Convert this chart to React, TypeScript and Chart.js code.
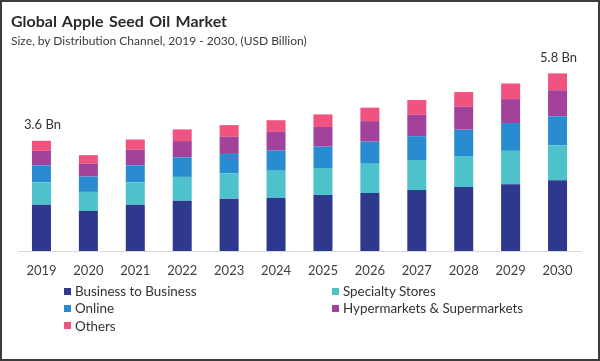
import React, { useEffect, useRef } from "react";
import { Chart, registerables } from "chart.js";

Chart.register(...registerables);

const categories = ["2019", "2020", "2021", "2022", "2023", "2024", "2025", "2026", "2027", "2028", "2029", "2030"];
const businessToBusiness = [1.51, 1.31, 1.51, 1.64, 1.71, 1.74, 1.83, 1.89, 1.99, 2.09, 2.18, 2.31];
const specialtyStores = [0.73, 0.62, 0.73, 0.78, 0.83, 0.88, 0.88, 0.96, 0.98, 1.01, 1.09, 1.14];
const online = [0.56, 0.5, 0.56, 0.64, 0.63, 0.67, 0.7, 0.72, 0.78, 0.86, 0.91, 0.95];
const hypermarkets = [0.47, 0.42, 0.51, 0.53, 0.56, 0.6, 0.64, 0.67, 0.7, 0.75, 0.78, 0.85];
const others = [0.33, 0.28, 0.33, 0.38, 0.38, 0.38, 0.41, 0.44, 0.48, 0.48, 0.51, 0.55];

const seriesNames = ["Business to Business", "Specialty Stores", "Online", "Hypermarkets & Supermarkets", "Others"];
const seriesColors = ["#2E388C", "#4DC2CA", "#2A8CD0", "#A3429A", "#F0537F"];

const totalLabelIndexes = [0, 11];
const totalLabelTexts = ["3.6 Bn", "5.8 Bn"];

const FONT = "Lato, 'Open Sans', sans-serif";

const totalLabelPlugin = {
  id: "totalLabels",
  afterDatasetsDraw(chart: any) {
    const ctx = chart.ctx;
    const meta = chart.getDatasetMeta(chart.data.datasets.length - 1);
    ctx.save();
    ctx.font = `13px ${FONT}`;
    ctx.fillStyle = "#333333";
    ctx.textAlign = "center";
    ctx.textBaseline = "middle";
    totalLabelIndexes.forEach((idx, i) => {
      const el = meta.data[idx];
      if (el) ctx.fillText(totalLabelTexts[i], el.x + 1, el.y - 16);
    });
    ctx.restore();
  },
};

export default function App() {
  const canvasRef = useRef<HTMLCanvasElement | null>(null);

  useEffect(() => {
    document.body.style.margin = "0";
    const canvas = canvasRef.current;
    if (!canvas) return;
    const seriesData = [businessToBusiness, specialtyStores, online, hypermarkets, others];
    const chart = new Chart(canvas, {
      type: "bar",
      data: {
        labels: categories,
        datasets: seriesData.map((d, i) => ({
          label: seriesNames[i],
          data: d,
          backgroundColor: seriesColors[i],
          borderWidth: 0,
          categoryPercentage: 1,
          barPercentage: 0.405,
        })),
      },
      options: {
        responsive: false,
        animation: false,
        layout: { padding: { left: 18, right: 19, top: 55, bottom: 80 } },
        plugins: {
          legend: { display: false },
          title: { display: false },
          tooltip: { enabled: false },
        },
        scales: {
          x: {
            stacked: true,
            grid: { display: false, drawTicks: false, tickLength: 0 },
            border: { display: true, color: "#D9D9D9", width: 1 },
            ticks: { color: "#404040", font: { family: FONT, size: 13 }, padding: 12 },
            afterFit: (scale: any) => {
              scale.height = 30;
            },
          },
          y: {
            stacked: true,
            display: false,
            min: 0,
            max: 6.4,
          },
        },
      },
      plugins: [totalLabelPlugin],
    });
    return () => chart.destroy();
  }, []);

  const legendRows = [
    { left: 64, top: 291, idx: 0 },
    { left: 332, top: 291, idx: 1 },
    { left: 64, top: 308.3, idx: 2 },
    { left: 332, top: 308.3, idx: 3 },
    { left: 64, top: 325.5, idx: 4 },
  ];

  return (
    <div style={{ position: "fixed", left: 0, top: 0, width: 600, height: 361, background: "#fff", overflow: "hidden", fontFamily: FONT }}>
      <canvas ref={canvasRef} width={600} height={361} style={{ position: "absolute", left: 0, top: 0, width: 600, height: 361 }} />
      <div style={{ position: "absolute", left: 11, top: 11, fontSize: 16, fontWeight: 700, color: "#2B2B2B", lineHeight: "19px", whiteSpace: "nowrap", wordSpacing: 1.5 }}>
        Global Apple Seed Oil Market
      </div>
      <div style={{ position: "absolute", left: 11, top: 33, fontSize: 12, color: "#3A3A3A", lineHeight: "15px", whiteSpace: "nowrap" }}>
        Size, by Distribution Channel, 2019 - 2030, (USD Billion)
      </div>
      {legendRows.map((r) => (
        <div key={r.idx} style={{ position: "absolute", left: r.left, top: r.top - 8, height: 16, display: "flex", alignItems: "center", whiteSpace: "nowrap" }}>
          <span style={{ display: "inline-block", width: 7, height: 7, background: seriesColors[r.idx], marginRight: 4 }} />
          <span style={{ fontSize: 13.4, color: "#333333", lineHeight: "16px" }}>{seriesNames[r.idx]}</span>
        </div>
      ))}
      <div style={{ position: "absolute", left: 0, top: 0, width: 600, height: 361, boxSizing: "border-box", border: "2px solid #3C3C3C", pointerEvents: "none" }} />
    </div>
  );
}
